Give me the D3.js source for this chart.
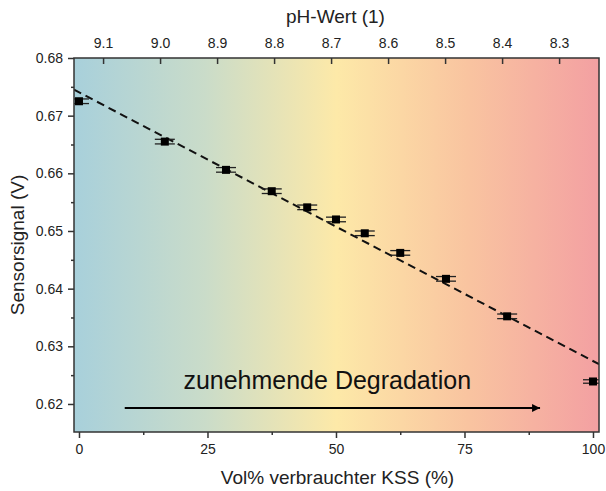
<!DOCTYPE html>
<html>
<head>
<meta charset="utf-8">
<script src="https://cdnjs.cloudflare.com/ajax/libs/d3/7.8.5/d3.min.js"></script>
<style>
  body { margin: 0; background: #fff; }
  svg { font-family: "Liberation Sans", Arial, sans-serif; }
</style>
</head>
<body>
<svg width="606" height="491"></svg>
<script>
// Measured values
const volPercent = [0, 16.7, 28.6, 37.5, 44.4, 50, 55.6, 62.5, 71.4, 83.3, 100];
const signal = [0.6725, 0.6655, 0.6606, 0.6569, 0.6541, 0.6520, 0.6496, 0.6462, 0.6417, 0.6352, 0.6239];
const signalErr = [0.0004, 0.0004, 0.0004, 0.0004, 0.0004, 0.0004, 0.0004, 0.0004, 0.0004, 0.0004, 0.0003];

// Linear fit (end points)
const fitX = [-0.97, 101.17];
const fitY = [0.6745, 0.6269];

// Tick labels
const xTicks = [0, 25, 50, 75, 100];
const yTicks = [0.62, 0.63, 0.64, 0.65, 0.66, 0.67, 0.68];
const phTicks = [9.1, 9.0, 8.9, 8.8, 8.7, 8.6, 8.5, 8.4, 8.3];

const svg = d3.select("svg"),
    margin = { top: 58, right: 7, bottom: 59, left: 74 },
    width = +svg.attr("width") - margin.left - margin.right,
    height = +svg.attr("height") - margin.top - margin.bottom;

const g = svg.append("g").attr("transform", `translate(${margin.left},${margin.top})`);

const x = d3.scaleLinear().domain([-0.97, 101.17]).range([0, width]);
const y = d3.scaleLinear().domain([0.61514, 0.68]).range([height, 0]);
const ph = d3.scaleLinear().domain([9.151, 8.23]).range([0, width]);

// Background gradient
const defs = svg.append("defs");
const grad = defs.append("linearGradient").attr("id", "bg").attr("x1", "0%").attr("x2", "100%");
[
  [0, "#a8d0db"], [0.25, "#cadcc9"], [0.5, "#fde9a8"],
  [0.75, "#f9c4a0"], [1, "#f3a0a2"]
].forEach(s => grad.append("stop").attr("offset", s[0]).attr("stop-color", s[1]));

defs.append("clipPath").attr("id", "clip")
  .append("rect").attr("width", width).attr("height", height);

g.append("rect").attr("width", width).attr("height", height).attr("fill", "url(#bg)");

const plot = g.append("g").attr("clip-path", "url(#clip)");

// Fit line
plot.append("path")
  .datum(fitX.map((d, i) => ({ x: d, y: fitY[i] })))
  .attr("fill", "none")
  .attr("stroke", "#111")
  .attr("stroke-width", 2)
  .attr("stroke-dasharray", "8,5")
  .attr("d", d3.line().x(d => x(d.x)).y(d => y(d.y)));

// Error bars and markers
const pts = volPercent.map((v, i) => ({ x: v, y: signal[i], e: signalErr[i] }));
const capW = 10;
pts.forEach(d => {
  const cx = x(d.x);
  [d.y - d.e, d.y + d.e].forEach(v => {
    plot.append("line")
      .attr("x1", cx - capW).attr("x2", cx + capW)
      .attr("y1", y(v)).attr("y2", y(v))
      .attr("stroke", "#222").attr("stroke-width", 1.3);
  });
  plot.append("line")
    .attr("x1", cx).attr("x2", cx)
    .attr("y1", y(d.y - d.e)).attr("y2", y(d.y + d.e))
    .attr("stroke", "#222").attr("stroke-width", 1.3);
  plot.append("rect")
    .attr("x", cx - 4).attr("y", y(d.y) - 4)
    .attr("width", 8).attr("height", 8)
    .attr("fill", "#000");
});

// Annotation
g.append("text")
  .attr("x", x(48.3)).attr("y", y(0.6226))
  .attr("text-anchor", "middle")
  .attr("font-size", 25)
  .attr("fill", "#111")
  .text("zunehmende Degradation");

defs.append("marker").attr("id", "arrow")
  .attr("viewBox", "0 0 10 10").attr("refX", 10).attr("refY", 5)
  .attr("markerWidth", 5).attr("markerHeight", 4)
  .attr("markerUnits", "strokeWidth")
  .attr("orient", "auto")
  .append("path").attr("d", "M0,0L10,5L0,10z").attr("fill", "#000");

g.append("line")
  .attr("x1", x(8.9)).attr("x2", x(89.7))
  .attr("y1", y(0.6193)).attr("y2", y(0.6193))
  .attr("stroke", "#000").attr("stroke-width", 2)
  .attr("marker-end", "url(#arrow)");

// Frame
g.append("rect").attr("width", width).attr("height", height)
  .attr("fill", "none").attr("stroke", "#333").attr("stroke-width", 1.5);

function styleAxis(sel) {
  sel.select(".domain").remove();
  sel.selectAll(".tick line").attr("stroke", "#333").attr("stroke-width", 1.5);
  sel.selectAll(".tick text").attr("fill", "#222").attr("font-size", 14);
}

// Bottom axis
g.append("g").attr("transform", `translate(0,${height})`)
  .call(d3.axisBottom(x).tickValues(xTicks).tickSize(6).tickPadding(6).tickFormat(d3.format("d")))
  .call(styleAxis);
g.append("g").attr("transform", `translate(0,${height})`)
  .call(d3.axisBottom(x).tickValues([12.5, 37.5, 62.5, 87.5]).tickSize(3).tickFormat(""))
  .call(styleAxis);

// Left axis
g.append("g")
  .call(d3.axisLeft(y).tickValues(yTicks).tickSize(6).tickPadding(5).tickFormat(d3.format(".2f")))
  .call(styleAxis);
g.append("g")
  .call(d3.axisLeft(y).tickValues([0.625, 0.635, 0.645, 0.655, 0.665, 0.675]).tickSize(3).tickFormat(""))
  .call(styleAxis);

// Top axis (pH), ticks pointing inward
const phAxis = g.append("g")
  .call(d3.axisTop(ph).tickValues(phTicks).tickSize(-6).tickPadding(0).tickFormat(d3.format(".1f")))
  .call(styleAxis);
phAxis.selectAll(".tick text").attr("y", -10);

// Axis titles
svg.append("text")
  .attr("x", margin.left + width / 2 + 1).attr("y", 484)
  .attr("text-anchor", "middle").attr("font-size", 19).attr("fill", "#222")
  .text("Vol% verbrauchter KSS (%)");

svg.append("text")
  .attr("x", margin.left + width / 2 - 1).attr("y", 23)
  .attr("text-anchor", "middle").attr("font-size", 19).attr("fill", "#222")
  .text("pH-Wert (1)");

svg.append("text")
  .attr("transform", `translate(24,${margin.top + height / 2}) rotate(-90)`)
  .attr("text-anchor", "middle").attr("font-size", 19).attr("fill", "#222")
  .text("Sensorsignal (V)");
</script>
</body>
</html>
